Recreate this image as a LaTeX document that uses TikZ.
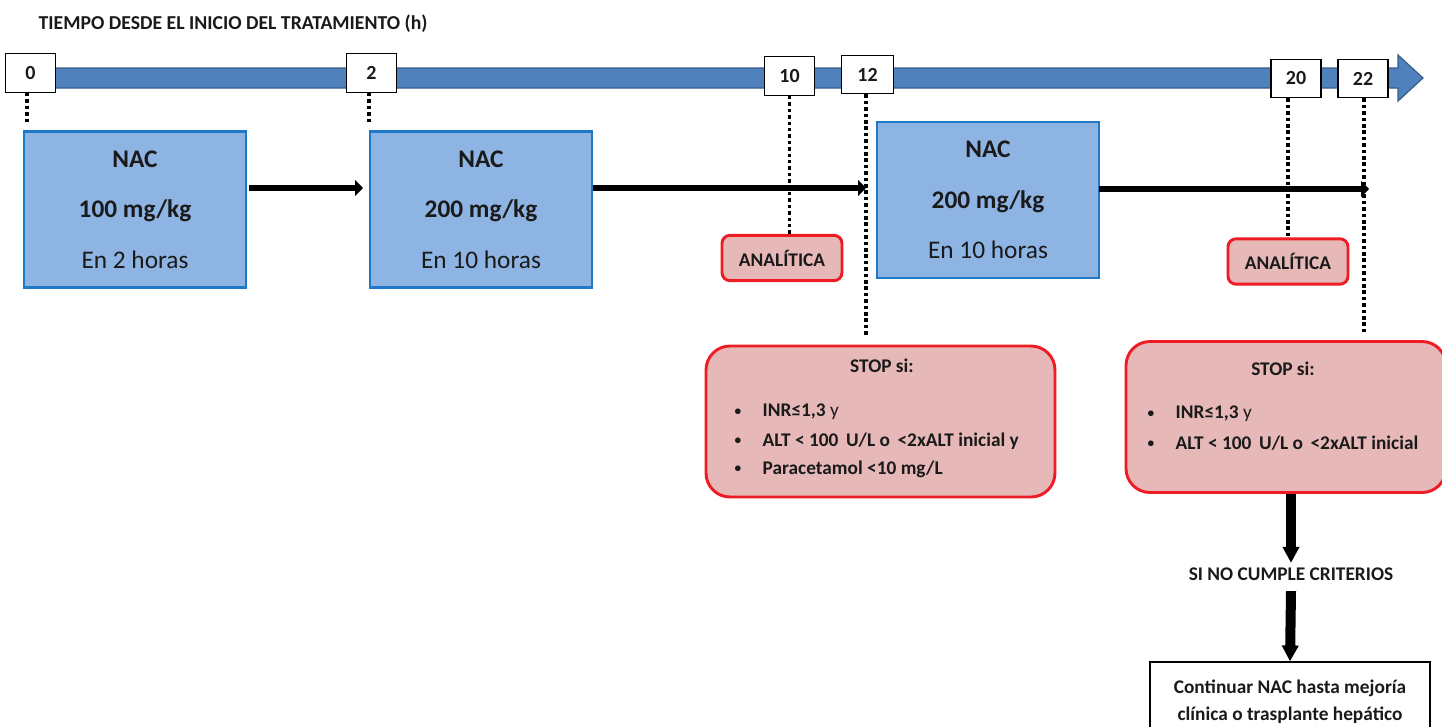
\documentclass[tikz,border=0pt]{standalone}
\usepackage{fontspec}
\setmainfont{Carlito}
\usetikzlibrary{arrows.meta}
\definecolor{barblue}{HTML}{4F81BD}
\definecolor{bardark}{HTML}{385D8A}
\definecolor{boxfill}{HTML}{8EB4E3}
\definecolor{boxline}{HTML}{1F78C8}
\definecolor{stopfill}{HTML}{E6B9B8}
\definecolor{stopline}{HTML}{EE1C24}
\definecolor{ink}{HTML}{1A1A1A}
\newcommand{\bul}{\makebox[21pt][l]{\raisebox{0.15ex}{\fontsize{10}{10}\selectfont•}}}
\begin{document}
\begin{tikzpicture}[x=0.75pt,y=-0.75pt,
  tick/.style={draw=black,line width=0.9pt,fill=white,inner sep=0pt,
    minimum width=37.5pt,minimum height=29pt,font=\bfseries\fontsize{15}{16}\selectfont,text=ink},
  dose/.style={draw=boxline,line width=2.2pt,fill=boxfill,inner sep=0pt,
    minimum width=166.5pt,minimum height=117pt,align=center,text=ink,
    font=\fontsize{19}{38}\selectfont},
  lab/.style={draw=stopline,line width=2.2pt,fill=stopfill,rounded corners=6pt,
    inner sep=0pt,minimum width=90pt,minimum height=34pt,text=ink,
    font=\bfseries\fontsize{14.5}{16}\selectfont},
  stopbox/.style={draw=stopline,line width=2.2pt,fill=stopfill,rounded corners=18pt,
    inner sep=0pt,text=ink},
  dots/.style={line width=2.6pt,dash pattern=on 2.6pt off 2.2pt},
  flow/.style={line width=4.8pt,-{Triangle[length=6pt,width=12pt]}},
  down/.style={line width=7.5pt,-{Triangle[length=12pt,width=12pt]}},
  txt/.style={font=\bfseries\fontsize{14.5}{16}\selectfont,text=ink},
  stoptxt/.style={txt,anchor=west},
]
\useasboundingbox (0,0) rectangle (1442,726);
\clip (0,0) rectangle (1442,726);

% heading
\node[anchor=west,font=\bfseries\fontsize{14.8}{16}\selectfont,text=ink] (title) at (34,24)
  {TIEMPO DESDE EL INICIO DEL TRATAMIENTO (h)};

% time axis
\draw[bardark,line width=0.9pt,fill=barblue,line join=miter]
  (30,68) -- (1398,68) -- (1398,55) -- (1423,78) -- (1398,101) -- (1398,88) -- (30,88) -- cycle;

% hour marks
\node[tick] (t0) at (30.5,73) {0};
\node[tick] (t2) at (371.5,73) {2};
\node[tick,minimum width=37pt] (t10) at (789.5,76) {10};
\node[tick,minimum width=38.5pt] (t12) at (867.5,74.5) {12};
\node[tick,minimum width=37.5pt] (t20) at (1296,78.5) {20};
\node[tick,minimum width=37.5pt] (t22) at (1363,78.5) {22};

% infusion steps
\node[dose] (d1) at (135,209.5) {\bfseries NAC\\\bfseries 100 mg/kg\\En 2 horas};
\node[dose] (d2) at (481,209.5) {\bfseries NAC\\\bfseries 200 mg/kg\\En 10 horas};
\node[dose] (d3) at (988,200) {\bfseries NAC\\\bfseries 200 mg/kg\\En 10 horas};

% lab checks
\node[lab] (a1) at (782,258) {ANALÍTICA};
\node[lab] (a2) at (1288,261.5) {ANALÍTICA};

% stop criteria
\node[stopbox,minimum width=261.75pt,minimum height=113.25pt] (s1) at (880.5,421.5) {};
\node[txt] (s1h) at (882,366) {STOP si:};
\node[stoptxt] (s1a) at (730,412) {\bul INR≤1,3 \mdseries y};
\node[stoptxt] (s1b) at (730,441) {\bul ALT < 100\, U/L o\, <2xALT inicial y};
\node[stoptxt] (s1c) at (730,469) {\bul Paracetamol <10 mg/L};

\node[stopbox,minimum width=240pt,minimum height=113.25pt] (s2) at (1286,417) {};
\node[txt] (s2h) at (1283,369) {STOP si:};
\node[stoptxt] (s2a) at (1143,414) {\bul INR≤1,3 \mdseries y};
\node[stoptxt] (s2b) at (1143,443) {\bul ALT < 100\, U/L o\, <2xALT inicial};

% fallback
\node[txt] (nc) at (1291,574) {SI NO CUMPLE CRITERIOS};
\node[draw=black,line width=0.9pt,fill=white,inner sep=0pt,minimum width=210pt,
  minimum height=60pt,align=center,text=ink,font=\bfseries\fontsize{14.5}{20}\selectfont]
  (cont) at (1290,702) {Continuar NAC hasta mejoría\\clínica o trasplante hepático};

% dotted hour guides
\coordinate (g0) at (27,123);
\coordinate (g2) at (369,123);
\coordinate (g12) at (866,335);
\coordinate (g22) at (1364,335);
\draw[dots] (t0.south -| g0) -- (g0);
\draw[dots] (t2.south -| g2) -- (g2);
\draw[dots] (t10.south) -- (a1.north -| t10.south);
\draw[dots] (t12.south -| g12) -- (g12);
\draw[dots] (t20.south -| a2.north) -- (a2.north);
\draw[dots] (t22.south -| g22) -- (g22);

% sequence arrows
\coordinate (b1) at (249,188);
\coordinate (e1) at (363,188);
\coordinate (b2) at (593,188);
\coordinate (e2) at (866,188);
\coordinate (b3) at (1099,189);
\coordinate (e3) at (1369,189);
\draw[flow] (b1) -- (e1);
\draw[flow] (b2) -- (e2);
\draw[flow] (b3) -- (e3);

% outcome arrows
\draw[down] (s2.south -| nc.north) -- (nc.north);
\draw[down] (nc.south) ++(0,6) coordinate (nc1) (nc1) -- (cont.north);
\end{tikzpicture}
\end{document}
